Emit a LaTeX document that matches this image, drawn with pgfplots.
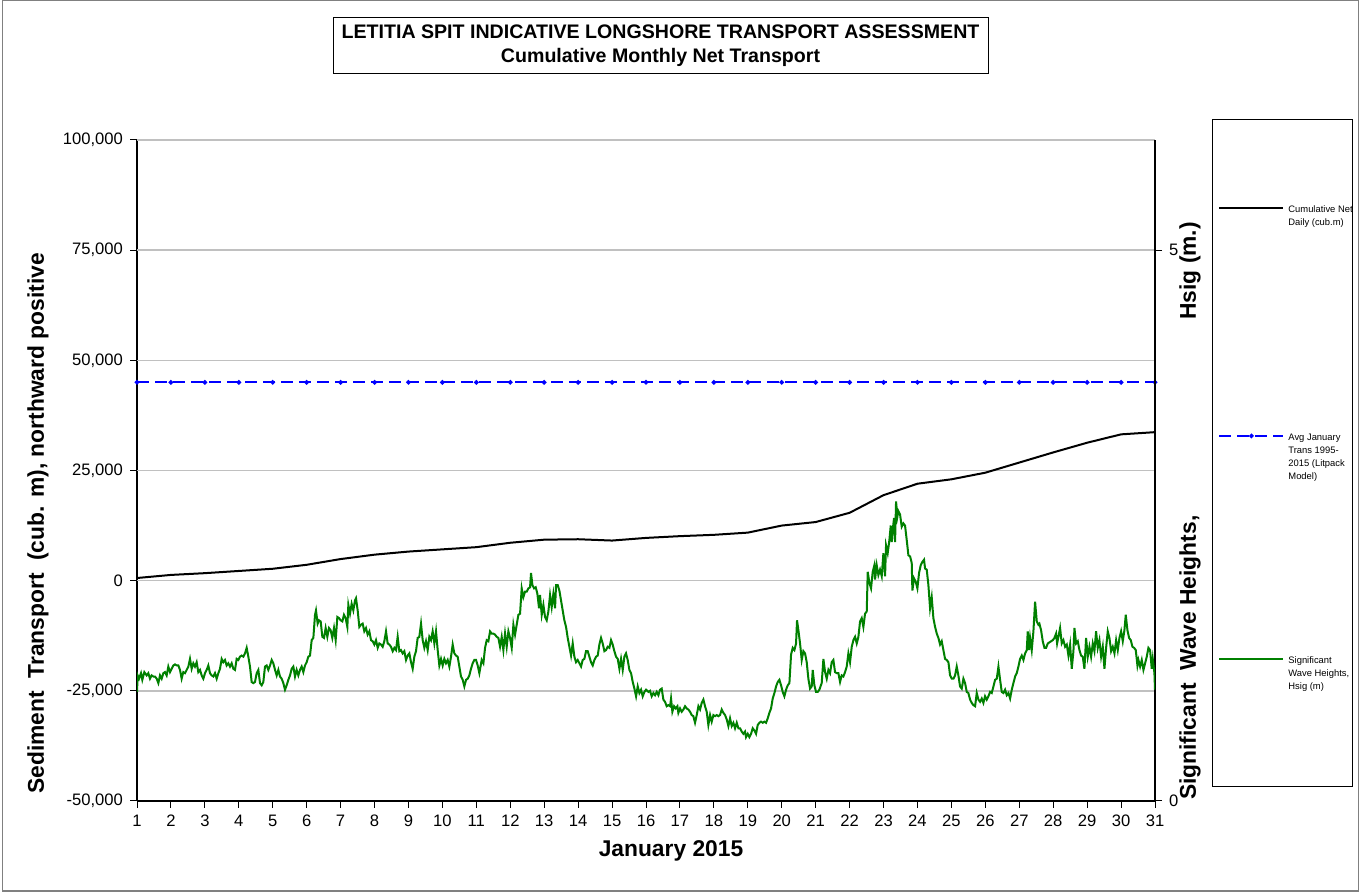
\documentclass[border=0pt]{standalone}
\usepackage{fontspec}
\setmainfont{Liberation Sans}
\usepackage{pgfplots}
\pgfplotsset{compat=1.18}
\usepackage{pgfplotstable}

\definecolor{gridgray}{RGB}{192,192,192}
\definecolor{wavegreen}{RGB}{0,128,0}
\definecolor{avgblue}{RGB}{0,0,255}
\definecolor{framegray}{RGB}{128,128,128}

\pgfplotstableread{
day cum
1 600
2 1300
3 1700
4 2200
5 2700
6 3600
7 4900
8 5900
9 6600
10 7100
11 7600
12 8600
13 9300
14 9400
15 9100
16 9700
17 10100
18 10400
19 10900
20 12500
21 13300
22 15400
23 19400
24 22000
25 23000
26 24500
27 26800
28 29100
29 31300
30 33200
31 33700
}\cumtable

\pgfplotstableread{
day avg
1 45000
2 45000
3 45000
4 45000
5 45000
6 45000
7 45000
8 45000
9 45000
10 45000
11 45000
12 45000
13 45000
14 45000
15 45000
16 45000
17 45000
18 45000
19 45000
20 45000
21 45000
22 45000
23 45000
24 45000
25 45000
26 45000
27 45000
28 45000
29 45000
30 45000
31 45000
}\avgtable

\pgfplotstableread{
day hsig
1.000 0.99
1.020 1.14
1.059 1.11
1.118 1.16
1.157 1.10
1.216 1.17
1.285 1.14
1.334 1.16
1.383 1.11
1.432 1.14
1.481 1.13
1.530 1.13
1.580 1.11
1.629 1.07
1.678 1.14
1.727 1.11
1.776 1.16
1.825 1.17
1.874 1.14
1.923 1.22
1.973 1.17
2.022 1.20
2.071 1.23
2.120 1.24
2.169 1.23
2.218 1.23
2.267 1.19
2.316 1.11
2.365 1.17
2.415 1.16
2.464 1.19
2.513 1.22
2.562 1.29
2.611 1.20
2.660 1.25
2.709 1.22
2.758 1.26
2.807 1.17
2.857 1.19
2.906 1.14
2.955 1.11
3.004 1.16
3.053 1.19
3.102 1.23
3.151 1.16
3.200 1.14
3.250 1.13
3.299 1.16
3.348 1.11
3.397 1.16
3.446 1.20
3.495 1.29
3.544 1.26
3.593 1.28
3.642 1.23
3.692 1.25
3.741 1.22
3.790 1.25
3.839 1.20
3.888 1.19
3.937 1.29
3.986 1.28
4.035 1.31
4.084 1.32
4.134 1.31
4.183 1.34
4.232 1.39
4.281 1.31
4.330 1.22
4.379 1.08
4.428 1.07
4.477 1.08
4.527 1.16
4.576 1.19
4.625 1.07
4.674 1.05
4.723 1.08
4.772 1.22
4.821 1.23
4.870 1.19
4.920 1.23
4.969 1.28
5.018 1.25
5.067 1.19
5.116 1.14
5.165 1.19
5.214 1.13
5.263 1.11
5.313 1.07
5.362 1.01
5.411 1.05
5.460 1.10
5.509 1.14
5.558 1.20
5.607 1.22
5.656 1.13
5.705 1.19
5.755 1.14
5.804 1.19
5.853 1.22
5.902 1.17
5.951 1.23
6.000 1.26
6.049 1.31
6.098 1.32
6.148 1.46
6.197 1.48
6.246 1.69
6.275 1.73
6.324 1.61
6.364 1.64
6.413 1.63
6.462 1.49
6.511 1.48
6.560 1.57
6.609 1.49
6.658 1.57
6.707 1.55
6.756 1.48
6.806 1.57
6.855 1.46
6.904 1.67
6.953 1.66
7.002 1.64
7.051 1.63
7.100 1.69
7.149 1.66
7.199 1.58
7.228 1.78
7.277 1.70
7.326 1.79
7.375 1.73
7.424 1.82
7.454 1.84
7.503 1.73
7.552 1.58
7.601 1.60
7.650 1.61
7.699 1.54
7.749 1.57
7.798 1.51
7.847 1.54
7.896 1.46
7.945 1.45
7.994 1.42
8.043 1.46
8.093 1.39
8.142 1.43
8.191 1.42
8.240 1.40
8.289 1.45
8.338 1.54
8.387 1.43
8.436 1.42
8.485 1.40
8.535 1.36
8.584 1.39
8.633 1.37
8.682 1.49
8.731 1.36
8.780 1.37
8.829 1.34
8.878 1.36
8.928 1.28
8.977 1.32
9.026 1.34
9.075 1.26
9.124 1.20
9.173 1.31
9.222 1.36
9.271 1.48
9.320 1.49
9.370 1.61
9.419 1.46
9.468 1.39
9.517 1.45
9.566 1.37
9.615 1.49
9.664 1.46
9.713 1.54
9.763 1.43
9.812 1.54
9.861 1.37
9.910 1.23
9.959 1.29
10.008 1.23
10.057 1.29
10.106 1.25
10.156 1.28
10.205 1.22
10.254 1.31
10.303 1.42
10.352 1.34
10.401 1.32
10.450 1.31
10.499 1.22
10.548 1.13
10.598 1.10
10.647 1.04
10.696 1.10
10.745 1.11
10.794 1.14
10.843 1.20
10.892 1.25
10.941 1.28
10.991 1.28
11.040 1.23
11.089 1.16
11.158 1.28
11.208 1.25
11.257 1.39
11.306 1.46
11.355 1.45
11.404 1.54
11.453 1.52
11.502 1.52
11.551 1.51
11.601 1.49
11.650 1.48
11.699 1.40
11.748 1.49
11.797 1.37
11.846 1.52
11.895 1.40
11.944 1.54
11.993 1.48
12.043 1.39
12.092 1.60
12.141 1.51
12.190 1.60
12.239 1.69
12.288 1.70
12.337 1.93
12.386 1.85
12.435 1.90
12.485 1.90
12.534 1.93
12.583 1.94
12.612 2.07
12.652 1.96
12.701 1.93
12.750 1.94
12.799 1.88
12.848 1.75
12.877 1.87
12.927 1.69
12.976 1.78
13.025 1.67
13.074 1.64
13.123 1.72
13.172 1.87
13.221 1.76
13.270 1.88
13.320 1.75
13.349 1.96
13.398 1.96
13.447 1.91
13.496 1.82
13.545 1.73
13.594 1.64
13.644 1.58
13.693 1.48
13.742 1.40
13.791 1.32
13.840 1.43
13.889 1.31
13.938 1.26
13.988 1.28
14.037 1.25
14.086 1.22
14.135 1.28
14.184 1.29
14.233 1.36
14.282 1.36
14.331 1.31
14.380 1.26
14.430 1.23
14.479 1.28
14.528 1.31
14.577 1.32
14.626 1.42
14.675 1.48
14.724 1.43
14.774 1.36
14.823 1.37
14.872 1.40
14.921 1.39
14.970 1.46
15.019 1.42
15.068 1.36
15.117 1.31
15.167 1.29
15.216 1.20
15.265 1.29
15.314 1.19
15.363 1.31
15.412 1.34
15.461 1.28
15.510 1.19
15.560 1.16
15.609 1.08
15.658 1.02
15.707 0.95
15.756 1.04
15.805 0.98
15.854 1.01
15.903 0.95
15.953 0.99
16.002 1.01
16.070 0.99
16.119 1.00
16.168 0.95
16.218 0.98
16.267 0.96
16.316 0.99
16.365 0.96
16.414 1.01
16.463 1.02
16.512 0.92
16.561 0.90
16.610 0.86
16.660 0.87
16.709 0.86
16.738 0.93
16.777 0.81
16.827 0.86
16.876 0.84
16.925 0.86
16.954 0.80
17.003 0.84
17.053 0.81
17.102 0.83
17.151 0.86
17.200 0.84
17.249 0.83
17.298 0.81
17.347 0.78
17.396 0.77
17.445 0.71
17.495 0.78
17.544 0.86
17.593 0.83
17.642 0.89
17.691 0.92
17.740 0.86
17.789 0.81
17.838 0.69
17.888 0.78
17.937 0.72
17.986 0.78
18.035 0.77
18.084 0.78
18.133 0.77
18.182 0.78
18.231 0.83
18.281 0.80
18.330 0.78
18.379 0.74
18.428 0.68
18.477 0.75
18.526 0.68
18.575 0.71
18.624 0.66
18.674 0.71
18.723 0.66
18.772 0.66
18.821 0.63
18.870 0.61
18.919 0.63
18.948 0.58
18.998 0.61
19.047 0.58
19.096 0.61
19.145 0.66
19.194 0.64
19.243 0.61
19.292 0.69
19.341 0.71
19.390 0.72
19.440 0.71
19.489 0.72
19.538 0.71
19.587 0.75
19.636 0.80
19.685 0.84
19.734 0.93
19.784 0.98
19.833 1.04
19.882 1.08
19.931 1.10
19.980 1.05
20.029 0.99
20.078 0.95
20.127 1.01
20.177 1.05
20.226 1.07
20.275 1.33
20.324 1.39
20.373 1.37
20.422 1.43
20.451 1.64
20.491 1.55
20.540 1.43
20.589 1.28
20.638 1.36
20.687 1.34
20.736 1.26
20.785 1.11
20.834 1.02
20.884 1.04
20.913 1.19
20.962 1.05
21.011 0.99
21.060 0.99
21.109 1.01
21.178 1.07
21.228 1.29
21.277 1.17
21.326 1.11
21.375 1.19
21.424 1.16
21.473 1.26
21.522 1.28
21.571 1.17
21.621 1.16
21.670 1.16
21.719 1.08
21.768 1.14
21.817 1.13
21.866 1.17
21.915 1.22
21.964 1.34
22.013 1.26
22.063 1.40
22.112 1.46
22.161 1.49
22.210 1.43
22.259 1.49
22.308 1.63
22.357 1.66
22.406 1.58
22.455 1.70
22.505 1.72
22.534 2.08
22.583 1.98
22.632 1.93
22.681 2.08
22.730 2.14
22.750 2.01
22.799 2.14
22.848 2.05
22.897 2.10
22.947 2.04
22.996 2.25
23.045 2.04
23.074 2.32
23.123 2.25
23.173 2.37
23.212 2.50
23.241 2.35
23.271 2.46
23.310 2.57
23.340 2.35
23.369 2.72
23.408 2.58
23.438 2.63
23.487 2.60
23.536 2.49
23.585 2.52
23.634 2.50
23.683 2.37
23.733 2.23
23.782 2.22
23.831 2.16
23.850 1.91
23.899 2.02
23.949 1.99
23.998 1.93
24.047 2.07
24.096 2.14
24.145 2.17
24.194 2.19
24.224 2.11
24.273 2.10
24.322 1.96
24.371 1.75
24.420 1.85
24.469 1.66
24.519 1.58
24.568 1.52
24.617 1.48
24.666 1.42
24.715 1.45
24.764 1.37
24.813 1.29
24.862 1.28
24.912 1.26
24.961 1.14
25.010 1.11
25.059 1.11
25.108 1.14
25.157 1.22
25.206 1.14
25.255 1.04
25.305 1.02
25.354 1.11
25.403 1.07
25.452 0.99
25.501 0.98
25.550 0.92
25.599 0.89
25.648 0.87
25.698 0.86
25.747 0.98
25.796 0.92
25.845 0.90
25.894 0.93
25.943 0.89
25.992 0.95
26.041 0.92
26.090 0.95
26.140 0.99
26.189 0.98
26.239 1.04
26.288 1.10
26.337 1.11
26.386 1.22
26.435 1.10
26.484 0.99
26.533 0.98
26.582 1.01
26.632 0.96
26.681 0.98
26.730 0.93
26.779 1.01
26.828 1.07
26.877 1.13
26.926 1.16
26.975 1.22
27.024 1.29
27.074 1.32
27.123 1.28
27.172 1.34
27.221 1.37
27.250 1.54
27.290 1.37
27.319 1.48
27.368 1.37
27.417 1.54
27.466 1.81
27.516 1.63
27.565 1.60
27.594 1.61
27.643 1.55
27.692 1.45
27.742 1.39
27.791 1.39
27.840 1.43
27.889 1.44
27.938 1.45
27.987 1.46
28.036 1.48
28.085 1.52
28.115 1.43
28.154 1.49
28.203 1.57
28.252 1.43
28.301 1.46
28.351 1.40
28.400 1.42
28.449 1.32
28.498 1.42
28.547 1.20
28.596 1.36
28.626 1.57
28.675 1.43
28.724 1.45
28.773 1.37
28.822 1.32
28.871 1.31
28.920 1.20
28.969 1.48
29.019 1.31
29.068 1.40
29.117 1.31
29.166 1.43
29.215 1.36
29.264 1.54
29.313 1.39
29.362 1.46
29.412 1.31
29.461 1.40
29.510 1.20
29.559 1.39
29.608 1.54
29.657 1.48
29.706 1.36
29.755 1.40
29.805 1.34
29.854 1.46
29.903 1.37
29.952 1.48
30.001 1.54
30.050 1.45
30.099 1.55
30.138 1.69
30.188 1.55
30.237 1.48
30.286 1.46
30.335 1.40
30.384 1.39
30.433 1.37
30.482 1.23
30.512 1.28
30.561 1.22
30.610 1.28
30.659 1.19
30.708 1.25
30.757 1.31
30.806 1.39
30.855 1.37
30.904 1.20
30.934 1.29
30.983 1.16
31.000 1.01
}\hsigtable

\begin{document}
\begin{tikzpicture}[x=1pt,y=1pt]
\useasboundingbox (0,0) rectangle (680,446);
\draw[framegray, line width=0.7pt] (1.3,0.4) rectangle (679.2,445.6);

\begin{axis}[
  at={(68.5pt,45.5pt)}, anchor=south west,
  scale only axis, width=509pt, height=330.5pt,
  xmin=1, xmax=31, ymin=-50000, ymax=100000,
  axis x line*=bottom, axis y line*=left,
  axis line style={line width=0.7pt, black},
  xtick={1,2,...,31},
  ytick={-50000,-25000,0,25000,50000,75000,100000},
  yticklabels={-50{,}000,-25{,}000,0,25{,}000,50{,}000,75{,}000,100{,}000},
  extra y ticks={-25000,0,25000,50000,75000,100000},
  extra y tick labels={},
  extra y tick style={grid=major, major tick length=0pt},
  grid style={gridgray, line width=0.8pt},
  tick align=outside, major tick length=3.5pt,
  tick style={black, line width=0.5pt},
  scaled y ticks=false,
  /pgf/number format/assume math mode=true,
  tick label style={font=\fontsize{8.3}{10}\selectfont},
]
\addplot[avgblue, line width=1pt, dash pattern=on 6pt off 3pt, mark=*, mark size=0.6pt, mark options={solid}] table[x=day,y=avg]{\avgtable};
\addplot[black, line width=1pt] table[x=day,y=cum]{\cumtable};
\end{axis}

\begin{axis}[
  at={(68.5pt,45.5pt)}, anchor=south west,
  scale only axis, width=509pt, height=330.5pt,
  xmin=1, xmax=31, ymin=0, ymax=6,
  axis x line=none, axis y line*=right,
  axis line style={line width=0.7pt, black},
  ytick={0,5}, yticklabels={0,5},
  tick align=outside, major tick length=3.5pt,
  tick style={black, line width=0.5pt},
  tick label style={font=\fontsize{8.3}{10}\selectfont},
  legend cell align=left,
  legend image code/.code={\draw[mark repeat=2,mark phase=2,#1] plot coordinates {(0pt,0pt) (16pt,0pt) (32pt,0pt)};},
  legend style={at={(1.0619,0.8987)}, anchor=north west, draw=none, fill=none,
    font=\fontsize{4.7}{6.5}\selectfont, row sep=86pt, inner sep=0pt,
    cells={align=left, anchor=north west, inner ysep=1.5pt}},
]
\addlegendimage{black, line width=1pt}
\addlegendentry{\smash{Cumulative Net}\\Daily (cub.m)\\[8.5pt]\mbox{}}
\addlegendimage{avgblue, line width=1pt, dash pattern=on 6pt off 3pt, mark=*, mark size=0.6pt, mark options={solid}}
\addlegendentry{\smash{Avg January}\\Trans 1995-\\2015 (Litpack\\Model)}
\addplot[wavegreen, line width=1pt] table[x=day,y=hsig]{\hsigtable};
\addlegendentry{\smash{Significant}\\Wave Heights,\\Hsig (m)}
\end{axis}

\node[draw, line width=0.5pt, minimum width=327.5pt, minimum height=28pt, align=center,
  font=\bfseries\fontsize{9.8}{12}\selectfont, inner sep=0pt] at (330.25,423)
  {LETITIA SPIT INDICATIVE LONGSHORE TRANSPORT ASSESSMENT\\Cumulative Monthly Net Transport};

\draw[line width=0.5pt] (606,52.5) rectangle (676,386);

\node[rotate=90, font=\bfseries\fontsize{11.4}{13}\selectfont] at (19,184.25)
  {Sediment\ \ Transport\ \ (cub. m), northward positive};
\node[font=\bfseries\fontsize{11.4}{13}\selectfont] at (335.5,20.5) {January 2015};
\node[rotate=90, font=\bfseries\fontsize{11.4}{13}\selectfont] at (595,190.5)
  {Significant\ \ Wave Heights,\hspace{98pt}Hsig (m.)};
\end{tikzpicture}
\end{document}
